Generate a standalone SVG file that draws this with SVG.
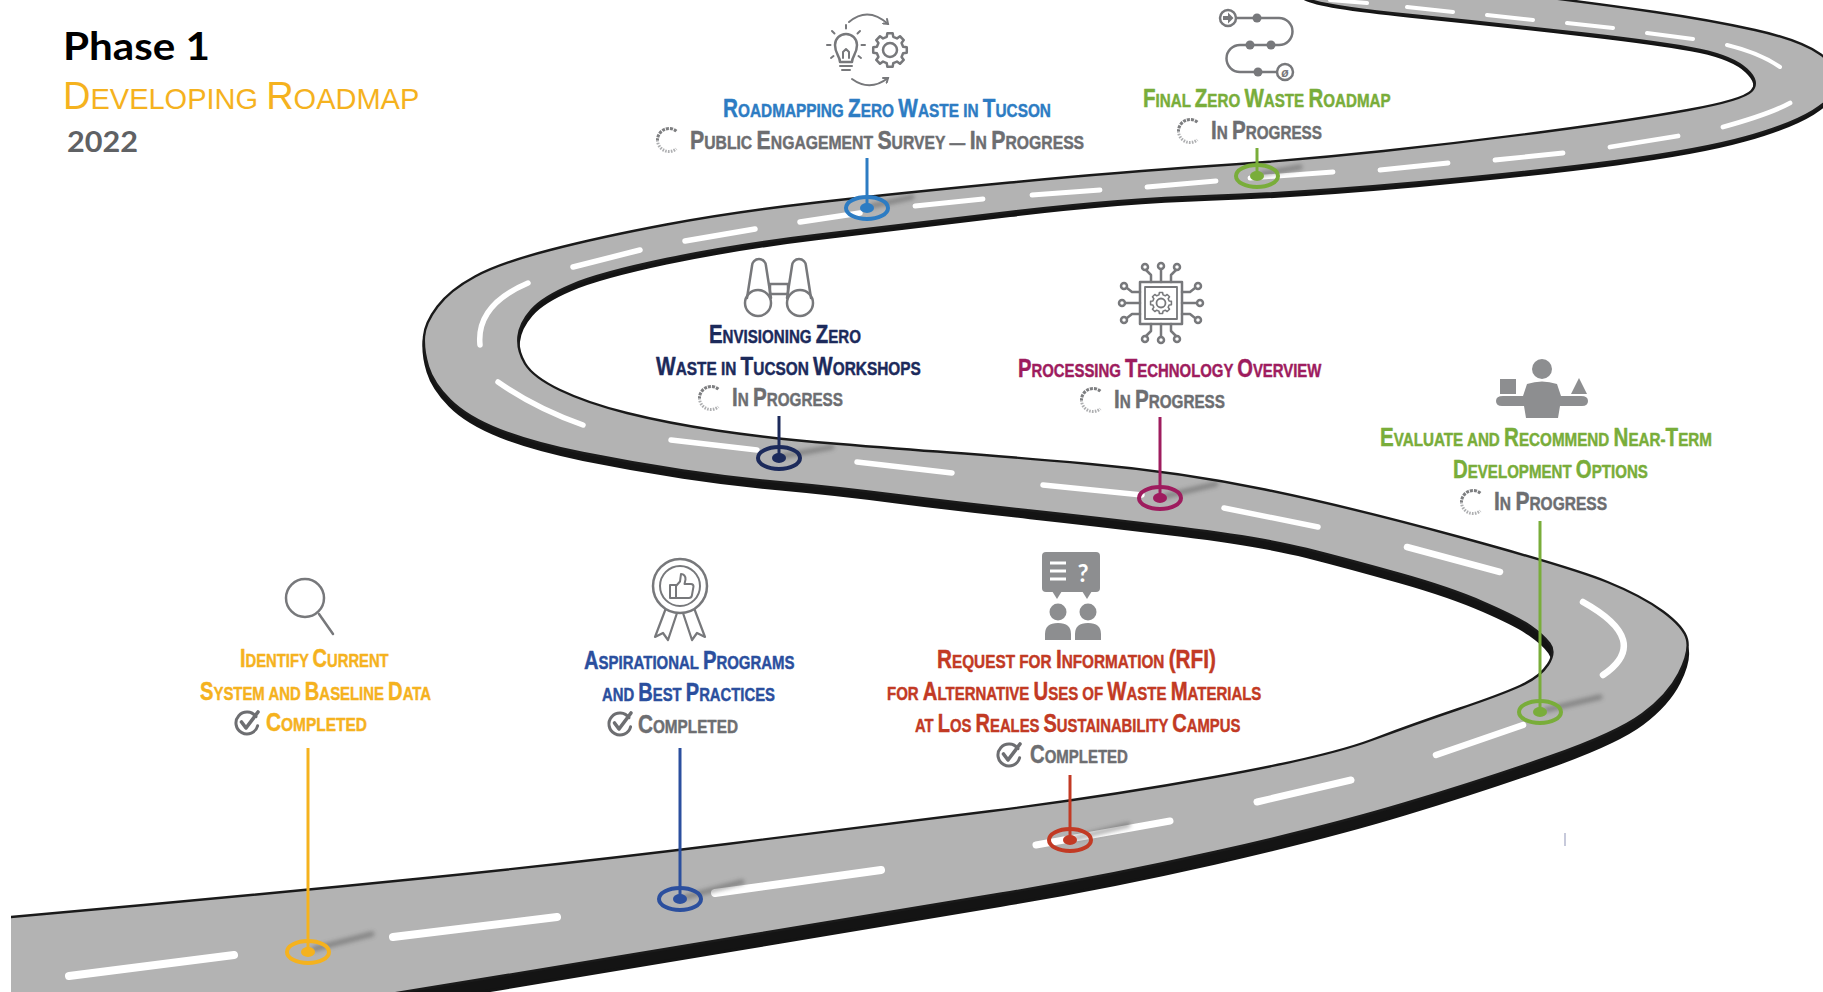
<svg xmlns="http://www.w3.org/2000/svg" width="1823" height="992" viewBox="0 0 1823 992">
<style>
  .lbl{font-family:"Liberation Sans",Arial,sans-serif;font-weight:700;font-size:18.5px;stroke-width:.45px;stroke-linejoin:round}
  .c{font-size:25px}
  .ttl{font-family:Lato,"Liberation Sans",sans-serif}
  .gy{fill:#6d6e71;stroke:#6d6e71}
  .yl{fill:#f5b21e;stroke:#f5b21e}
  .bl{fill:#2b4f9e;stroke:#2b4f9e}
  .nv{fill:#1c2a5b;stroke:#1c2a5b}
  .mg{fill:#9e1c5e;stroke:#9e1c5e}
  .gr{fill:#79ad3a;stroke:#79ad3a}
  .rd{fill:#c23a24;stroke:#c23a24}
  .lb{fill:#2d7cc3;stroke:#2d7cc3}
  .dash{fill:none;stroke:#fff;stroke-linecap:round}
  .d8{stroke-width:8}.d7{stroke-width:7}.d6{stroke-width:6.5}.d5{stroke-width:5.5}.d4{stroke-width:4.8}.d3{stroke-width:4}
  .ico{fill:none;stroke:#77787b;stroke-width:2.5;stroke-linecap:round;stroke-linejoin:round}
  .icf{fill:#8d8e90}
  .pin{fill:none;stroke-width:3}
  .ring{fill:none;stroke-width:4}
  .shd{stroke:#3c3c3c;stroke-width:5;stroke-linecap:round;opacity:.4;filter:url(#soft)}
</style>
<defs>
  <path id="roadShape" d="M0,1025 L0,918 L143.5,905 Q287,892 430.5,877.5 Q574,863 727,844 Q880,825 991.5,811 Q1103,797 1214.5,777 Q1326,757 1371.5,740 Q1417,723 1458.5,709 Q1500,695 1520,686 Q1540,677 1548,664.5 Q1556,652 1549.5,643.5 Q1543,635 1530,626 Q1517,617 1483.5,602.5 Q1450,588 1400,574 Q1350,560 1306.5,549 Q1263,538 1181.5,528 Q1100,518 1030,510.5 Q960,503 896.5,495 Q833,487 783,482.5 Q733,478 683,470.5 Q633,463 583,453 Q533,443 500,430 Q467,417 450,400 Q433,383 428,366.5 Q423,350 424,336.5 Q425,323 437.5,306.5 Q450,290 475,276.5 Q500,263 550,250 Q600,237 666.5,224.5 Q733,212 816.5,202.5 Q900,193 1010,182.5 Q1120,172 1210,166 Q1300,160 1383.5,151 Q1467,142 1550,131 Q1633,120 1688,110 Q1743,100 1751.5,91 Q1760,82 1746.5,69.5 Q1733,57 1700,50 Q1667,43 1583.5,33.5 Q1500,24 1410,15 Q1320,6 1305,-2 L1290,-12 L1470,-12 L1535,-4 Q1600,4 1655,12 Q1710,20 1755,30 Q1800,40 1820,54 Q1840,68 1838,82.5 Q1836,97 1813,111 Q1790,125 1745,137.5 Q1700,150 1616.5,161 Q1533,172 1416.5,182.5 Q1300,193 1210,196 Q1120,199 1010,212 Q900,225 816.5,235 Q733,245 666.5,259 Q600,273 571.5,285 Q543,297 531.5,310 Q520,323 518.5,336.5 Q517,350 525,363.5 Q533,377 560,390 Q587,403 627,413 Q667,423 717,430.5 Q767,438 833.5,443.5 Q900,449 950,452.5 Q1000,456 1090,464 Q1180,472 1265,489.5 Q1350,507 1461.5,537.5 Q1573,568 1607.5,582 Q1642,596 1663,611.5 Q1684,627 1687,639.5 Q1690,652 1679,673.5 Q1668,695 1642.5,714 Q1617,733 1550,756.5 Q1483,780 1404.5,803.5 Q1326,827 1214.5,852 Q1103,877 1001.5,893.5 Q900,910 750,935 Q600,960 501,976 Q402,992 301,1008.5 L200,1025 Z"/>
  <clipPath id="cutL"><rect x="11" y="-20" width="1840" height="1040"/></clipPath>
  <filter id="soft" x="-50%" y="-200%" width="200%" height="500%"><feGaussianBlur stdDeviation="2.2"/></filter>
  <marker id="ah" markerWidth="8" markerHeight="8" refX="5" refY="4" orient="auto" markerUnits="userSpaceOnUse">
    <path d="M1,1 L5,4 L1,7" fill="none" stroke="#77787b" stroke-width="2" stroke-linecap="round"/>
  </marker>
  <path id="gear" d="M13.1,-3.27 L16.79,-2.66 L16.79,2.66 L13.1,3.27 L11.57,6.95 L13.75,9.99 L9.99,13.75 L6.95,11.57 L3.27,13.1 L2.66,16.79 L-2.66,16.79 L-3.27,13.1 L-6.95,11.57 L-9.99,13.75 L-13.75,9.99 L-11.57,6.95 L-13.1,3.27 L-16.79,2.66 L-16.79,-2.66 L-13.1,-3.27 L-11.57,-6.95 L-13.75,-9.99 L-9.99,-13.75 L-6.95,-11.57 L-3.27,-13.1 L-2.66,-16.79 L2.66,-16.79 L3.27,-13.1 L6.95,-11.57 L9.99,-13.75 L13.75,-9.99 L11.57,-6.95 Z"/>
  <!-- "in progress" spinner -->
  <g id="spin" fill="none" stroke-width="3">
    <path d="M7.4,-8.8 A11.5,11.5 0 0 0 -11.5,0" stroke="#7d7e80" stroke-dasharray="3 1"/>
    <path d="M-11.5,0 A11.5,11.5 0 0 0 7.4,8.8" stroke="#aeafb1" stroke-dasharray="1.6 1.2"/>
  </g>
  <!-- "completed" check badge -->
  <g id="chk" fill="none" stroke="#6d6e71" stroke-linecap="round" stroke-linejoin="round">
    <path d="M9,-6.3 A11,11 0 1 0 10.6,2.8" stroke-width="3"/>
    <path d="M-5.5,-1 L-1,5 L11,-11" stroke-width="3.6"/>
  </g>
</defs>

<rect width="1823" height="992" fill="#fff"/>

<!-- road -->
<g id="road" clip-path="url(#cutL)">
  <use href="#roadShape" fill="#141414" stroke="#141414" stroke-width="3" transform="matrix(1,0,0,1.012,0,1)"/>
  <use href="#roadShape" fill="#b3b3b3" stroke="#1a1a1a" stroke-width="2.4"/>
  <g class="dash">
    <path class="d8" d="M69,976 L234,955 M393,937 L557,917 M715,893 L881,870"/>
    <path class="d7" d="M1036,845 L1170,821 M1257,802 L1351,780"/>
    <path class="d6" d="M1436,755 L1523,725 M1603,675 Q1653,641 1583,602 M1500,572 L1407,547"/>
    <path class="d5" d="M1318,527 L1224,508 M1142,495 L1043,485 M952,473 L857,462 M757,450 L671,440 M583,425 Q535,408 498,382 M480,345 Q476,305 528,283"/>
    <path class="d5" d="M573,267 L640,250 M685,241 L755,229 M800,222 L860,213"/>
    <path class="d4" d="M915,206 L983,199 M1032,195 L1100,190 M1147,187 L1216,181 M1250,178 L1333,172 M1380,170 L1448,163 M1495,160 L1563,153 M1610,147 L1678,136 M1723,127 Q1770,114 1790,103"/>
    <path class="d3" d="M1780,67 Q1760,53 1727,45 M1693,39 L1647,33 M1613,28 L1567,23 M1533,20 L1487,15 M1453,12 L1407,7 M1367,3 L1330,0"/>
  </g>
</g>

<!-- title -->
<g id="title">
  <text class="ttl" x="63" y="60" font-weight="700" font-size="39" fill="#000" textLength="147" lengthAdjust="spacingAndGlyphs">Phase 1</text>
  <text x="63" y="109" font-family="'Liberation Sans',Arial,sans-serif" font-size="29" fill="#f5b21e"><tspan font-size="38">D</tspan>EVELOPING <tspan font-size="38">R</tspan>OADMAP</text>
  <text class="ttl" x="67" y="152" font-weight="700" font-size="28" fill="#5f6164" textLength="71" lengthAdjust="spacingAndGlyphs">2022</text>
</g>

<!-- connectors: pin shadows, stems and road markers -->
<g id="connectors">
  <g>
    <path class="shd" d="M314,949 L372,934"/>
    <path class="shd" d="M686,897 L742,882"/>
    <path class="shd" d="M1076,838 L1128,825"/>
    <path class="shd" d="M1546,710 L1600,697"/>
    <path class="shd" d="M1166,496 L1216,484"/>
    <path class="shd" d="M784,456 L832,447"/>
    <path class="shd" d="M872,206 L912,197"/>
    <path class="shd" d="M1262,174 L1300,167"/>
  </g>
  <g id="pin-identify" stroke="#f5b21e" fill="#f5b21e">
    <path class="pin" d="M308,748 V952"/>
    <ellipse class="ring" cx="308" cy="952" rx="21" ry="11"/>
    <ellipse cx="308" cy="952" rx="7" ry="5" stroke="none"/>
  </g>
  <g id="pin-aspirational" stroke="#2b4f9e" fill="#2b4f9e">
    <path class="pin" d="M680,748 V899"/>
    <ellipse class="ring" cx="680" cy="899" rx="21" ry="11"/>
    <ellipse cx="680" cy="899" rx="7" ry="5" stroke="none"/>
  </g>
  <g id="pin-rfi" stroke="#c23a24" fill="#c23a24">
    <path class="pin" d="M1070,775 V840"/>
    <ellipse class="ring" cx="1070" cy="840" rx="21" ry="11"/>
    <ellipse cx="1070" cy="840" rx="7" ry="5" stroke="none"/>
  </g>
  <g id="pin-evaluate" stroke="#79ad3a" fill="#79ad3a">
    <path class="pin" d="M1540,521 V712"/>
    <ellipse class="ring" cx="1540" cy="712" rx="21" ry="11"/>
    <ellipse cx="1540" cy="712" rx="7" ry="5" stroke="none"/>
  </g>
  <g id="pin-processing" stroke="#9e1c5e" fill="#9e1c5e">
    <path class="pin" d="M1160,417 V498"/>
    <ellipse class="ring" cx="1160" cy="498" rx="21" ry="11"/>
    <ellipse cx="1160" cy="498" rx="7" ry="5" stroke="none"/>
  </g>
  <g id="pin-envisioning" stroke="#1c2a5b" fill="#1c2a5b">
    <path class="pin" d="M779,416 V458"/>
    <ellipse class="ring" cx="779" cy="458" rx="21" ry="11"/>
    <ellipse cx="779" cy="458" rx="7" ry="5" stroke="none"/>
  </g>
  <g id="pin-roadmapping" stroke="#2d7cc3" fill="#2d7cc3">
    <path class="pin" d="M867,158 V208"/>
    <ellipse class="ring" cx="867" cy="208" rx="21" ry="11"/>
    <ellipse cx="867" cy="208" rx="7" ry="5" stroke="none"/>
  </g>
  <g id="pin-final" stroke="#79ad3a" fill="#79ad3a">
    <path class="pin" d="M1257,148 V176"/>
    <ellipse class="ring" cx="1257" cy="176" rx="21" ry="11"/>
    <ellipse cx="1257" cy="176" rx="7" ry="5" stroke="none"/>
  </g>
  <path d="M1565,833 V846" stroke="#a9adc8" stroke-width="1.3"/>
</g>

<!-- milestone: identify current system -->
<g id="node-identify">
  <circle class="ico" cx="305" cy="598" r="19" stroke-width="3.5"/>
  <path class="ico" d="M319,614 L333,634" stroke-width="5.5"/>
  <text class="lbl yl" transform="matrix(0.7994,0,0,1,240,667)"><tspan class="c">I</tspan>DENTIFY <tspan class="c">C</tspan>URRENT</text>
  <text class="lbl yl" transform="matrix(0.806,0,0,1,200,700)"><tspan class="c">S</tspan>YSTEM AND <tspan class="c">B</tspan>ASELINE <tspan class="c">D</tspan>ATA</text>
  <use href="#chk" x="247" y="723"/>
  <text class="lbl yl" transform="matrix(0.836,0,0,1,266,731)"><tspan class="c">C</tspan>OMPLETED</text>
</g>

<!-- milestone: aspirational programs -->
<g id="node-aspirational">
  <g class="ico">
    <path d="M666,608 L655,637 L663,633 L668,640 L677,613" fill="#fff" stroke-width="2.2"/>
    <path d="M694,608 L705,637 L697,633 L692,640 L683,613" fill="#fff" stroke-width="2.2"/>
    <circle cx="680" cy="586" r="27" fill="#fff"/>
    <circle cx="680" cy="586" r="20" stroke-width="2"/>
    <path d="M670,585 h6 v13 h-6 z M676,586 l4,-4.5 l1,-7.5 q4.5,0 4.5,5.5 l-1,4.5 h6.5 q2.5,0 2.5,2.5 l-1.6,9 q-0.5,2.5 -3,2.5 h-12.9" stroke-width="2"/>
  </g>
  <text class="lbl bl" transform="matrix(0.8095,0,0,1,584,669)"><tspan class="c">A</tspan>SPIRATIONAL <tspan class="c">P</tspan>ROGRAMS</text>
  <text class="lbl bl" transform="matrix(0.8024,0,0,1,602,701)">AND <tspan class="c">B</tspan>EST <tspan class="c">P</tspan>RACTICES</text>
  <use href="#chk" x="620" y="724"/>
  <text class="lbl gy" transform="matrix(0.828,0,0,1,638,733)"><tspan class="c">C</tspan>OMPLETED</text>
</g>

<!-- milestone: envisioning workshops -->
<g id="node-envisioning">
  <g class="ico" fill="#fff">
    <path d="M747,298 L752,266 A7,7 0 0 1 766,266 L771,298"/>
    <path d="M787,298 L792,266 A7,7 0 0 1 806,266 L811,298"/>
    <rect x="770" y="284" width="18" height="10"/>
    <circle cx="758" cy="303" r="13"/>
    <circle cx="800" cy="303" r="13"/>
  </g>
  <text class="lbl nv" transform="matrix(0.8167,0,0,1,709,343)"><tspan class="c">E</tspan>NVISIONING <tspan class="c">Z</tspan>ERO</text>
  <text class="lbl nv" transform="matrix(0.8323,0,0,1,656,375)"><tspan class="c">W</tspan>ASTE IN <tspan class="c">T</tspan>UCSON <tspan class="c">W</tspan>ORKSHOPS</text>
  <use href="#spin" x="711" y="398"/>
  <text class="lbl gy" transform="matrix(0.8247,0,0,1,732,406)"><tspan class="c">I</tspan>N <tspan class="c">P</tspan>ROGRESS</text>
</g>

<!-- milestone: processing technology -->
<g id="node-processing">
  <g class="ico" stroke-width="2.2">
    <rect x="1140" y="282" width="42" height="42"/>
    <rect x="1145" y="287" width="32" height="32" stroke-width="1.8"/>
    <use href="#gear" transform="translate(1161,303) scale(0.62)"/>
    <circle cx="1161" cy="303" r="4.5" stroke-width="1.8"/>
    <path d="M1151,282 V275 L1146,270 M1161,282 V270 M1171,282 V275 L1176,270 M1151,324 V331 L1146,336 M1161,324 V336 M1171,324 V331 L1176,336 M1140,292 H1132 L1127,288 M1140,303 H1126 M1140,314 H1132 L1127,318 M1182,292 H1190 L1195,288 M1182,303 H1196 M1182,314 H1190 L1195,318"/>
    <circle cx="1145" cy="267" r="3"/><circle cx="1161" cy="266" r="3"/><circle cx="1177" cy="267" r="3"/>
    <circle cx="1145" cy="339" r="3"/><circle cx="1161" cy="340" r="3"/><circle cx="1177" cy="339" r="3"/>
    <circle cx="1124" cy="286" r="3"/><circle cx="1122" cy="303" r="3"/><circle cx="1124" cy="320" r="3"/>
    <circle cx="1198" cy="286" r="3"/><circle cx="1200" cy="303" r="3"/><circle cx="1198" cy="320" r="3"/>
  </g>
  <text class="lbl mg" transform="matrix(0.8057,0,0,1,1018,377)"><tspan class="c">P</tspan>ROCESSING <tspan class="c">T</tspan>ECHNOLOGY <tspan class="c">O</tspan>VERVIEW</text>
  <use href="#spin" x="1093" y="400"/>
  <text class="lbl gy" transform="matrix(0.8247,0,0,1,1114,408)"><tspan class="c">I</tspan>N <tspan class="c">P</tspan>ROGRESS</text>
</g>

<!-- milestone: evaluate options -->
<g id="node-evaluate">
  <g class="icf">
    <circle cx="1542" cy="369" r="10"/>
    <path d="M1527,384 Q1542,379 1557,384 L1561,396 L1581,396 Q1588,396 1588,401 Q1588,406 1582,406 L1560,406 L1558,418 L1526,418 L1524,406 L1502,406 Q1496,406 1496,401 Q1496,396 1503,396 L1523,396 Z"/>
    <rect x="1500" y="379" width="16" height="15"/>
    <path d="M1571,394 L1587,394 L1579,378 Z"/>
  </g>
  <text class="lbl gr" transform="matrix(0.8227,0,0,1,1380,446)"><tspan class="c">E</tspan>VALUATE AND <tspan class="c">R</tspan>ECOMMEND <tspan class="c">N</tspan>EAR-<tspan class="c">T</tspan>ERM</text>
  <text class="lbl gr" transform="matrix(0.8159,0,0,1,1453,478)"><tspan class="c">D</tspan>EVELOPMENT <tspan class="c">O</tspan>PTIONS</text>
  <use href="#spin" x="1473" y="502"/>
  <text class="lbl gy" transform="matrix(0.8395,0,0,1,1494,510)"><tspan class="c">I</tspan>N <tspan class="c">P</tspan>ROGRESS</text>
</g>

<!-- milestone: request for information -->
<g id="node-rfi">
  <g class="icf">
    <rect x="1042" y="552" width="58" height="40" rx="4"/>
    <path d="M1052,591 L1062,591 L1057,599 Z M1082,591 L1092,591 L1087,599 Z"/>
    <circle cx="1058" cy="612" r="8.5"/>
    <circle cx="1088" cy="612" r="8.5"/>
    <path d="M1045,640 V634 Q1045,623 1058,623 Q1071,623 1071,634 V640 Z M1075,640 V634 Q1075,623 1088,623 Q1101,623 1101,634 V640 Z"/>
  </g>
  <path d="M1050,563 H1066 M1050,571 H1066 M1050,579 H1066" stroke="#fff" stroke-width="3"/>
  <text x="1083" y="582" text-anchor="middle" font-family="Lato,'Liberation Sans',sans-serif" font-weight="700" font-size="24" fill="#fff">?</text>
  <text class="lbl rd" transform="matrix(0.8289,0,0,1,937,668)"><tspan class="c">R</tspan>EQUEST FOR <tspan class="c">I</tspan>NFORMATION <tspan class="c">(RFI)</tspan></text>
  <text class="lbl rd" transform="matrix(0.8112,0,0,1,887,700)">FOR <tspan class="c">A</tspan>LTERNATIVE <tspan class="c">U</tspan>SES OF <tspan class="c">W</tspan>ASTE <tspan class="c">M</tspan>ATERIALS</text>
  <text class="lbl rd" transform="matrix(0.8013,0,0,1,915,732)">AT <tspan class="c">L</tspan>OS <tspan class="c">R</tspan>EALES <tspan class="c">S</tspan>USTAINABILITY <tspan class="c">C</tspan>AMPUS</text>
  <use href="#chk" x="1009" y="755"/>
  <text class="lbl gy" transform="matrix(0.811,0,0,1,1030,763)"><tspan class="c">C</tspan>OMPLETED</text>
</g>

<!-- milestone: roadmapping zero waste -->
<g id="node-roadmapping">
  <g class="ico">
    <path d="M840,62 C840,56 835,54 835,45 A11,11 0 1 1 857,45 C857,54 852,56 852,62 Z"/>
    <path d="M840,66 H852 M842,70 H850 M843,58 V52 L846,49 L849,52 V58" stroke-width="2"/>
    <path d="M846,25 V28.5 M832,31 L834.5,33.5 M860,31 L857.5,33.5 M827,45 H830.5 M865,45 H861.5 M831,58 L833.5,56 M861,58 L858.5,56" stroke-width="2"/>
    <use href="#gear" transform="translate(890,50)"/>
    <circle cx="890" cy="50" r="7"/>
    <path d="M849,22 Q868,6 888,24" stroke-width="2" marker-end="url(#ah)"/>
    <path d="M852,79 Q870,92 888,78" stroke-width="2" marker-end="url(#ah)"/>
  </g>
  <text class="lbl lb" transform="matrix(0.8306,0,0,1,723,117)"><tspan class="c">R</tspan>OADMAPPING <tspan class="c">Z</tspan>ERO <tspan class="c">W</tspan>ASTE IN <tspan class="c">T</tspan>UCSON</text>
  <use href="#spin" x="669" y="140"/>
  <text class="lbl gy" transform="matrix(0.8509,0,0,1,690,149)"><tspan class="c">P</tspan>UBLIC <tspan class="c">E</tspan>NGAGEMENT <tspan class="c">S</tspan>URVEY — <tspan class="c">I</tspan>N <tspan class="c">P</tspan>ROGRESS</text>
</g>

<!-- milestone: final roadmap -->
<g id="node-final">
  <g class="ico">
    <path d="M1236,18 H1279 A13.5,13.5 0 0 1 1279,45 H1240 A13.5,13.5 0 0 0 1240,72 H1277"/>
    <circle cx="1228" cy="18" r="8" fill="#fff"/>
    <circle cx="1285" cy="72" r="8" fill="#fff"/>
  </g>
  <path d="M1223,16 H1228 V12.5 L1233.5,18 L1228,23.5 V20 H1223 Z" fill="#77787b"/>
  <g fill="#77787b">
    <circle cx="1257" cy="18" r="4.5"/><circle cx="1250" cy="45" r="4.5"/><circle cx="1271" cy="45" r="4.5"/><circle cx="1258" cy="72" r="4.5"/>
  </g>
  <text x="1285" y="76.5" text-anchor="middle" font-family="'Liberation Sans',sans-serif" font-style="italic" font-weight="700" font-size="12" fill="#77787b">ø</text>
  <text class="lbl gr" transform="matrix(0.8201,0,0,1,1143,107)"><tspan class="c">F</tspan>INAL <tspan class="c">Z</tspan>ERO <tspan class="c">W</tspan>ASTE <tspan class="c">R</tspan>OADMAP</text>
  <use href="#spin" x="1190" y="131"/>
  <text class="lbl gy" transform="matrix(0.8247,0,0,1,1211,139)"><tspan class="c">I</tspan>N <tspan class="c">P</tspan>ROGRESS</text>
</g>
</svg>
